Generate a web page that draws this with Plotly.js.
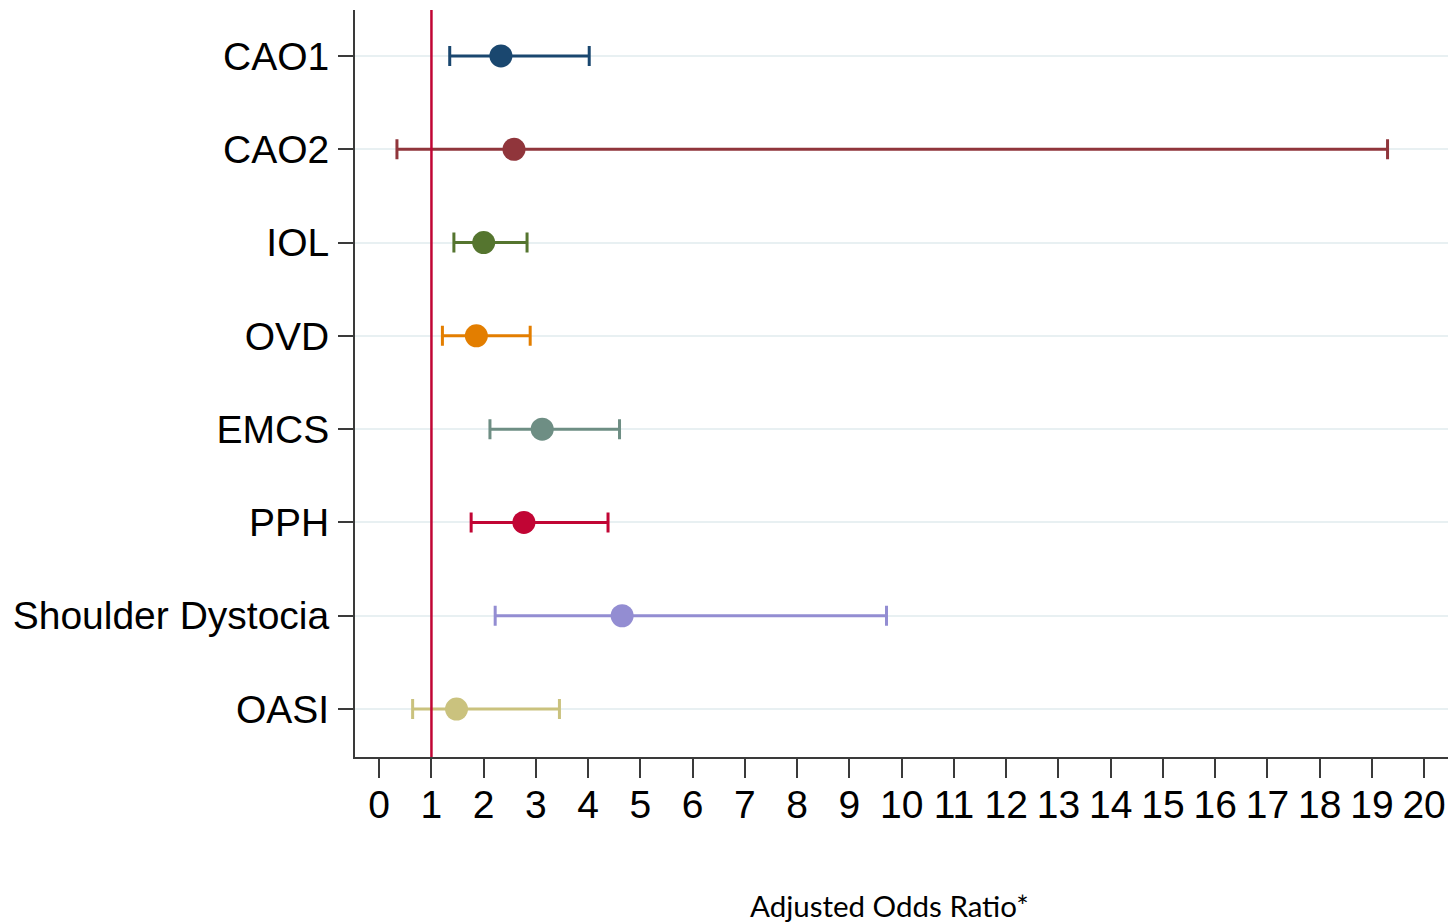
<!DOCTYPE html>
<html>
<head>
<meta charset="utf-8">
<script src="https://cdn.plot.ly/plotly-3.0.1.min.js"></script>
<style>html,body{margin:0;padding:0;background:#fff;}</style>
</head>
<body>
<div id="chart" style="width:1448px;height:922px;"></div>
<script>
// Data
const categories = ["CAO1", "CAO2", "IOL", "OVD", "EMCS", "PPH", "Shoulder Dystocia", "OASI"];
const oddsRatio  = [2.33, 2.58, 2.00, 1.86, 3.12, 2.77, 4.65, 1.48];
const ciLower    = [1.35, 0.34, 1.43, 1.21, 2.12, 1.76, 2.22, 0.64];
const ciUpper    = [4.02, 19.30, 2.83, 2.89, 4.60, 4.38, 9.71, 3.45];
const colors     = ["#1a476f", "#90353b", "#55752f", "#e37e00", "#6e8e84", "#c10534", "#938dd2", "#cac27e"];
const xTicks     = [0,1,2,3,4,5,6,7,8,9,10,11,12,13,14,15,16,17,18,19,20];
const refValue   = 1;
const xTitle     = "Adjusted Odds Ratio*";

const traces = categories.map((c, i) => ({
  type: "scatter",
  mode: "markers",
  x: [oddsRatio[i]],
  y: [i],
  name: c,
  showlegend: false,
  marker: {size: 23, color: colors[i], line: {width: 0}},
  error_x: {
    type: "data",
    symmetric: false,
    array: [ciUpper[i] - oddsRatio[i]],
    arrayminus: [oddsRatio[i] - ciLower[i]],
    color: colors[i],
    thickness: 3,
    width: 10
  }
}));

const layout = {
  width: 1448,
  height: 922,
  margin: {l: 354.5, r: 0, t: 10, b: 165},
  paper_bgcolor: "#ffffff",
  plot_bgcolor: "#ffffff",
  showlegend: false,
  xaxis: {
    range: [-0.463, 20.457],
    tickvals: xTicks,
    ticktext: xTicks.map(String),
    ticks: "outside",
    ticklen: 19,
    tickwidth: 2,
    tickcolor: "#3a3a3a",
    showline: true,
    linecolor: "#3a3a3a",
    linewidth: 2,
    showgrid: false,
    zeroline: false,
    tickfont: {family: "Liberation Sans, Arial, sans-serif", size: 39, color: "#000"},
    ticklabelstandoff: -7
  },
  yaxis: {
    range: [7.514, -0.493],
    tickvals: categories.map((c, i) => i),
    ticktext: categories,
    ticks: "outside",
    ticklen: 15,
    tickwidth: 2,
    tickcolor: "#3a3a3a",
    showline: true,
    linecolor: "#3a3a3a",
    linewidth: 2,
    showgrid: true,
    gridcolor: "#e8f0f2",
    gridwidth: 2,
    zeroline: false,
    tickfont: {family: "Liberation Sans, Arial, sans-serif", size: 39, color: "#000"},
    ticklabelstandoff: 1
  },
  shapes: [{
    type: "line",
    xref: "x", yref: "paper",
    x0: refValue, x1: refValue, y0: 0, y1: 1,
    line: {color: "#c10534", width: 2.5},
    layer: "above"
  }],
  annotations: [{
    text: xTitle,
    xref: "paper", yref: "paper",
    x: (889.5 - 354.5) / 1093.5,
    y: -(905 - 757) / 747,
    xanchor: "center", yanchor: "middle",
    showarrow: false,
    font: {family: "Lato, Open Sans, sans-serif", size: 29.5, color: "#000"}
  }]
};

Plotly.newPlot("chart", traces, layout, {displayModeBar: false, staticPlot: true});
</script>
</body>
</html>
